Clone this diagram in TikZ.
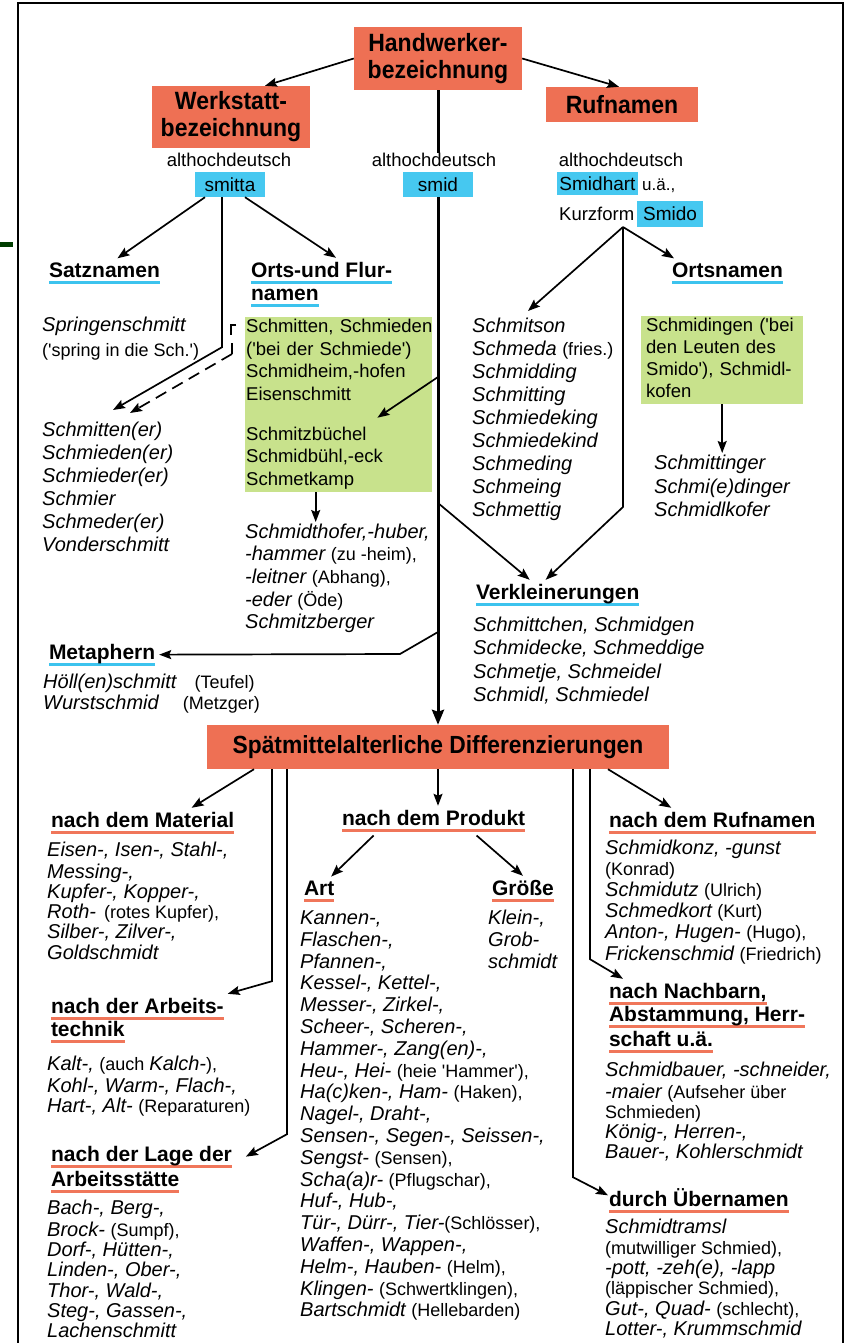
\documentclass[tikz,border=0pt]{standalone}
\usepackage{fontspec}
\setmainfont{Liberation Sans}
\newfontfamily\condf[FakeStretch=0.92]{Liberation Sans}
\usetikzlibrary{arrows.meta}
\definecolor{hdred}{RGB}{238,112,84}
\definecolor{hdcyan}{RGB}{70,200,240}
\definecolor{hdgreen}{RGB}{200,226,140}
\definecolor{ulred}{RGB}{240,118,90}
\definecolor{ulcyan}{RGB}{60,195,238}
\newlength\ulw
\newcommand\hdline[2]{\settowidth\ulw{#2}\rlap{\color{#1}\rule[-6.5pt]{\ulw}{2.6pt}}#2}
\newcommand\lstf[1]{\itshape\fontsize{20}{#1}\selectfont}
\newcommand\rem[1]{{\upshape\fontsize{18}{\the\baselineskip}\selectfont#1}}
\newcommand\apo{\textquotesingle}
\begin{document}
\begin{tikzpicture}[x=1pt,y=-1pt,
    redbox/.style={fill=hdred, align=center, inner sep=0pt, font=\condf\bfseries\fontsize{25}{27}\selectfont},
    cybox/.style={fill=hdcyan, inner sep=0pt, font=\fontsize{19}{21}\selectfont},
    gbox/.style={fill=hdgreen, anchor=north west, inner ysep=0pt, align=left},
    lbl/.style={inner sep=0pt, font=\fontsize{18.5}{21}\selectfont},
    hd/.style={anchor=base west, inner sep=0pt, outer sep=4pt, font=\bfseries\fontsize{21}{23}\selectfont},
    lst/.style={anchor=north west, inner sep=0pt, align=left},
    conn/.style={line width=1.7pt},
    arr/.style={conn, -{Stealth[length=12pt,width=9pt,inset=2pt]}},
    trunk/.style={line width=3pt},
    bigarr/.style={trunk, -{Stealth[length=15pt,width=12pt,inset=2pt]}}]
  \useasboundingbox (0,0) rectangle (847,1343);
  \fill[white] (0,0) rectangle (847,1343);
  \draw[line width=1.2pt] (18,1343) -- (18,3) -- (843,3) -- (843,1343);
  \fill[black!60!green!60!black] (0,242) rectangle (13,247);

  \node[redbox, minimum width=168pt, minimum height=63pt] (hw) at (438,58.5) {Handwerker-\\bezeichnung};
  \node[redbox, minimum width=158pt, minimum height=62pt] (werk) at (231,117) {Werkstatt-\\bezeichnung};
  \node[redbox, minimum width=152pt, minimum height=35pt] (ruf) at (622,104.5) {Rufnamen};
  \node[lbl] (alt1) at (229,160) {althochdeutsch};
  \node[lbl] (alt2) at (434,160) {althochdeutsch};
  \node[lbl] (alt3) at (621,160) {althochdeutsch};
  \node[cybox, minimum width=70pt, minimum height=25pt] (smitta) at (230,184.5) {smitta};
  \node[cybox, minimum width=70pt, minimum height=25pt] (smid) at (438,184.5) {smid};
  \node[cybox, minimum width=81pt, minimum height=23pt] (smidhart) at (597.5,183.5) {Smidhart};
  \node[lbl, anchor=base west, font=\fontsize{17}{20}\selectfont] (uae) at (642,190) {u.ä.,};
  \node[lbl, anchor=base west] (kurz) at (559,220) {Kurzform};
  \node[cybox, minimum width=66pt, minimum height=25pt] (smido) at (670,214) {Smido};
  \coordinate (kz) at (623,227);

  \node[hd] (satz) at (45,277) {\hdline{ulcyan}{Satznamen}};
  \node[hd] (orts1) at (247,277) {\hdline{ulcyan}{Orts-und Flur-}};
  \node[hd] (orts2) at (247,300) {\hdline{ulcyan}{namen}};
  \node[hd] (ortsn) at (668,277) {\hdline{ulcyan}{Ortsnamen}};
  \node[hd] (verkl) at (472,599) {\hdline{ulcyan}{Verkleinerungen}};
  \node[hd] (meta) at (45,659) {\hdline{ulcyan}{Metaphern}};

  \node[lst, font=\lstf{25}] (spr) at (42,314) {\strut Springenschmitt\\\rem{(\apo spring in die Sch.\apo)}};
  \node[lst, font=\lstf{23}] (schm) at (42,420) {\strut Schmitten(er)\\Schmieden(er)\\Schmieder(er)\\Schmier\\Schmeder(er)\\Vonderschmitt};
  \node[gbox, text width=185pt, inner xsep=1pt, font=\fontsize{18.5}{22.5}\selectfont] (g1) at (245,317)
    {\strut\mbox{Schmitten, Schmieden}\\\mbox{(\apo bei der Schmiede\apo)}\\\mbox{Schmidheim,-hofen}\\Eisenschmitt\\[17.5pt]Schmitzbüchel\\\mbox{Schmidbühl,-eck}\\Schmetkamp\strut};
  \node[lst, font=\lstf{22.7}] (hof) at (245,522) {\strut Schmidthofer,-huber,\\-hammer \rem{(zu -heim),}\\-leitner \rem{(Abhang),}\\-eder \rem{(Öde)}\\Schmitzberger};
  \node[lst, font=\lstf{23}] (sson) at (472,316) {\strut Schmitson\\Schmeda \rem{(fries.)}\\Schmidding\\Schmitting\\Schmiedeking\\Schmiedekind\\Schmeding\\Schmeing\\Schmettig};
  \node[gbox, text width=152pt, inner xsep=5pt, font=\fontsize{18.5}{22}\selectfont] (g2) at (641,316)
    {\strut\mbox{Schmidingen (\apo bei}\\\mbox{den Leuten des}\\\mbox{Smido\apo), Schmidl-}\\kofen\strut};
  \node[lst, font=\lstf{23.5}] (sger) at (654,453) {\strut Schmittinger\\Schmi(e)dinger\\Schmidlkofer};
  \node[lst, font=\lstf{23.3}] (vlist) at (473,615) {\strut Schmittchen, Schmidgen\\Schmidecke, Schmeddige\\Schmetje, Schmeidel\\Schmidl, Schmiedel};
  \node[lst, font=\lstf{21}] (mlist) at (43,674) {\strut Höll(en)schmitt\hspace{18pt}\rem{(Teufel)}\\Wurstschmid\hspace{24pt}\rem{(Metzger)}};

  \node[redbox, font=\condf\bfseries\fontsize{24.8}{26}\selectfont, minimum width=462pt, minimum height=44pt] (spaet) at (438,747) {Spätmittelalterliche Differenzierungen};

  \node[hd] (mat) at (47,827) {\hdline{ulred}{nach dem Material}};
  \node[hd] (arb1) at (47,1013) {\hdline{ulred}{nach der Arbeits-}};
  \node[hd] (arb2) at (47,1036) {\hdline{ulred}{technik}};
  \node[hd] (lage1) at (47,1161) {\hdline{ulred}{nach der Lage der}};
  \node[hd] (lage2) at (47,1186) {\hdline{ulred}{Arbeitsstätte}};
  \node[hd] (prod) at (338,825) {\hdline{ulred}{nach dem Produkt}};
  \node[hd] (art) at (300,895) {\hdline{ulred}{Art}};
  \node[hd] (gr) at (488,895) {\hdline{ulred}{Größe}};
  \node[hd] (rufn) at (605,827) {\hdline{ulred}{nach dem Rufnamen}};
  \node[hd] (nb1) at (605,998) {\hdline{ulred}{nach Nachbarn,}};
  \node[hd] (nb2) at (605,1021) {\hdline{ulred}{Abstammung, Herr-}};
  \node[hd] (nb3) at (605,1046) {\hdline{ulred}{schaft u.ä.}};
  \node[hd] (ueb) at (605,1206) {\hdline{ulred}{durch Übernamen}};

  \node[lst, font=\lstf{20.2}] (matl) at (47,842) {\strut Eisen-, Isen-, Stahl-,\\Messing-,\\Kupfer-, Kopper-,\\Roth-\hspace{8pt}\rem{(rotes Kupfer),}\\Silber-, Zilver-,\\Goldschmidt};
  \node[lst, font=\lstf{20}] (arbl) at (47,1056) {\strut Kalt-, \rem{(auch }Kalch-\rem{),}\\Kohl-, Warm-, Flach-,\\Hart-, Alt- \rem{(Reparaturen)}};
  \node[lst, font=\lstf{20.3}] (lagel) at (47,1200) {\strut Bach-, Berg-,\\Brock- \rem{(Sumpf),}\\Dorf-, Hütten-,\\Linden-, Ober-,\\Thor-, Wald-,\\Steg-, Gassen-,\\Lachenschmitt};
  \node[lst, font=\lstf{21.8}] (artl) at (300,909) {\strut Kannen-,\\Flaschen-,\\Pfannen-,\\Kessel-, Kettel-,\\Messer-, Zirkel-,\\Scheer-, Scheren-,\\Hammer-, Zang(en)-,\\Heu-, Hei- \rem{(heie \apo Hammer\apo),}\\Ha(c)ken-, Ham- \rem{(Haken),}\\Nagel-, Draht-,\\Sensen-, Segen-, Seissen-,\\Sengst- \rem{(Sensen),}\\Scha(a)r- \rem{(Pflugschar),}\\Huf-, Hub-,\\Tür-, Dürr-, Tier-\rem{(Schlösser),}\\Waffen-, Wappen-,\\Helm-, Hauben- \rem{(Helm),}\\Klingen- \rem{(Schwertklingen),}\\Bartschmidt \rem{(Hellebarden)}};
  \node[lst, font=\lstf{21.8}] (grl) at (488,909) {\strut Klein-,\\Grob-\\schmidt};
  \node[lst, font=\lstf{21.2}] (rufl) at (605,839) {\strut Schmidkonz, -gunst\\\rem{(Konrad)}\\Schmidutz \rem{(Ulrich)}\\Schmedkort \rem{(Kurt)}\\Anton-, Hugen- \rem{(Hugo),}\\Frickenschmid \rem{(Friedrich)}};
  \node[lst, font=\lstf{20}] (nbl) at (605,1062) {\strut Schmidbauer, -schneider,\\-maier \rem{(Aufseher über}\\\rem{Schmieden)}\\König-, Herren-,\\Bauer-, Kohlerschmidt};
  \node[lst, font=\lstf{20.4}] (uebl) at (605,1219) {\strut Schmidtramsl\\\rem{(mutwilliger Schmied),}\\-pott, -zeh(e), -lapp\\\rem{(läppischer Schmied),}\\Gut-, Quad- \rem{(schlecht),}\\Lotter-, Krummschmid};

  \draw[arr] (hw.west) -- ([xshift=34pt]werk.north);
  \draw[arr] (hw.east) -- ([xshift=-3pt]ruf.north);
  \draw[trunk] (hw.south) -- (hw.south |- alt2.north);
  \draw[arr] ([xshift=-25pt]smitta.south) -- ([xshift=13pt]satz.north);
  \draw[arr] ([xshift=-8pt]smitta.south) -- ++(0,150) -- ([xshift=71pt,yshift=10pt]schm.north west);
  \draw[arr] ([xshift=15pt]smitta.south) -- ([xshift=89pt]orts1.north west);
  \draw[conn] ([xshift=-9pt,yshift=-8pt]g1.north west) -- ++(-5,0) -- ++(0,10);
  \draw[conn] ([xshift=-13pt,yshift=-26pt]g1.north west) -- ++(0,11) coordinate (br);
  \draw[arr, dash pattern=on 12pt off 7pt] (br) -- ([xshift=88pt,yshift=7pt]schm.north west);
  \coordinate (t1) at (438,377);
  \coordinate (t2) at (438,503);
  \coordinate (t3) at (438,632);
  \draw[arr] (t1) -- ([xshift=-55pt,yshift=-13pt]g1.east);
  \draw[arr] ([xshift=-23pt]g1.south) -- ([xshift=-23pt]g1.south |- hof.north);
  \draw[bigarr] (smid.south) -- (spaet.north);
  \draw[arr] (t2) -- ([xshift=-28pt]verkl.north);
  \draw[arr] (kz) -- ++(0,280) -- ([xshift=-12pt]verkl.north);
  \draw[arr] (kz) -- ([xshift=56pt,yshift=5pt]sson.north west);
  \draw[arr] (kz) -- ([xshift=6pt]ortsn.north west);
  \draw[arr] (g2.south) -- (g2.south |- sger.north);
  \draw[arr] (t3) -- ++(-38,22) -- (meta.east);

  \draw[arr] ([xshift=-184pt]spaet.south) -- ([xshift=49pt]mat.north);
  \draw[arr] ([xshift=-166pt]spaet.south) -- ++(0,212) -- (arb1.north east);
  \draw[arr] ([xshift=-151pt]spaet.south) -- ++(0,365) -- ([xshift=10pt]lage1.east);
  \draw[arr] (spaet.south) -- (spaet.south |- prod.north);
  \draw[arr] ([xshift=-60pt]prod.south) -- ([xshift=12pt]art.north);
  \draw[arr] ([xshift=43pt]prod.south) -- (gr.north);
  \draw[arr] ([xshift=170pt]spaet.south) -- ([xshift=-41pt]rufn.north);
  \draw[arr] ([xshift=152pt]spaet.south) -- ++(0,190) -- ([xshift=18pt]nb1.north west);
  \draw[arr] ([xshift=135pt]spaet.south) -- ++(0,408) -- ([xshift=3pt,yshift=5pt]ueb.west);
\end{tikzpicture}
\end{document}
